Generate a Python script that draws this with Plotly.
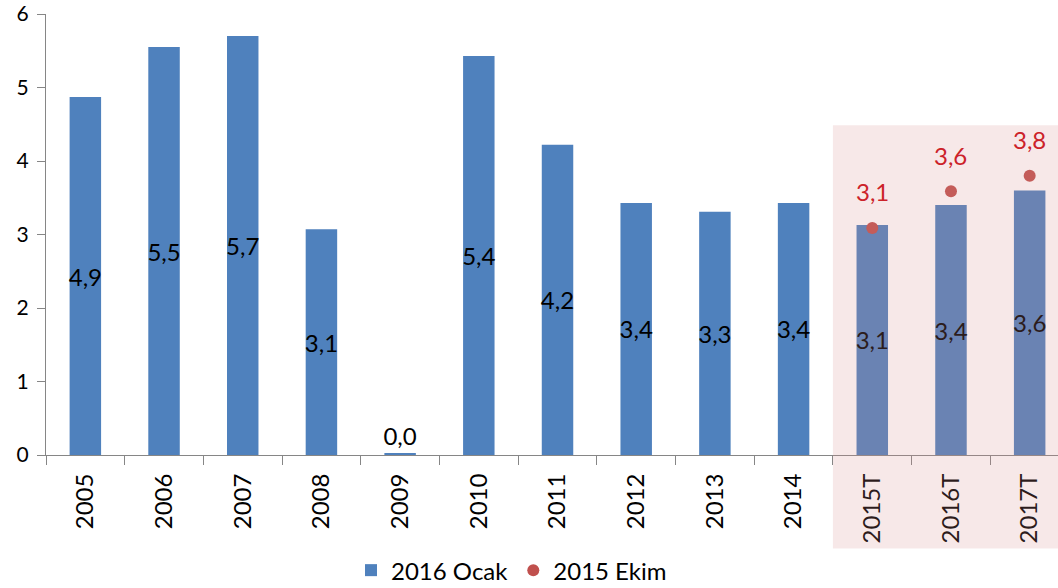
import plotly.graph_objects as go

categories = ["2005", "2006", "2007", "2008", "2009", "2010", "2011", "2012", "2013", "2014", "2015T", "2016T", "2017T"]
ocak_2016 = [4.87, 5.55, 5.70, 3.07, 0.02, 5.43, 4.22, 3.43, 3.31, 3.43, 3.13, 3.40, 3.60]
ocak_labels = ["4,9", "5,5", "5,7", "3,1", "0,0", "5,4", "4,2", "3,4", "3,3", "3,4", "3,1", "3,4", "3,6"]
ekim_cats = ["2015T", "2016T", "2017T"]
ekim_2015 = [3.09, 3.59, 3.80]
ekim_labels = ["3,1", "3,6", "3,8"]
yticks = [0, 1, 2, 3, 4, 5, 6]

FONT = "Lato, 'Open Sans', sans-serif"
BLUE = "#4f81bd"
RED = "#c0504d"
FS = 24

positions = ["outside" if v < 0.5 else "inside" for v in ocak_2016]

fig = go.Figure()
fig.add_trace(go.Bar(
    x=categories, y=ocak_2016, name="2016 Ocak",
    marker=dict(color=BLUE, line=dict(width=0)),
    width=0.4,
    text=ocak_labels, textposition=positions, textangle=0,
    insidetextanchor="middle", constraintext="none",
    textfont=dict(family=FONT, size=FS, color="#000000"),
    cliponaxis=False,
))
fig.add_trace(go.Scatter(
    x=ekim_cats, y=ekim_2015, name="2015 Ekim", mode="markers",
    marker=dict(color=RED, size=12),
))

for c, v, t in zip(ekim_cats, ekim_2015, ekim_labels):
    fig.add_annotation(x=c, y=v, text=t, showarrow=False, yshift=36,
                       font=dict(family=FONT, size=FS, color="#cc2229"))

fig.add_shape(type="rect", xref="x", yref="paper", x0=9.5, x1=13.0,
              y0=-0.212, y1=0.748, fillcolor="rgba(215,140,140,0.2)",
              line=dict(width=0), layer="above")

fig.update_layout(
    width=1058, height=588,
    margin=dict(l=46, r=0, t=14, b=133, autoexpand=False),
    plot_bgcolor="white", paper_bgcolor="white",
    font=dict(family=FONT, size=FS, color="#000000"),
    showlegend=True,
    legend=dict(orientation="h", x=0.46, xanchor="center", y=-0.262, yanchor="middle",
                font=dict(family=FONT, size=FS), traceorder="normal"),
    xaxis=dict(type="category", range=[-0.5, 12.36], showline=True, linecolor="#868686",
               linewidth=1, ticks="outside", tickson="boundaries", ticklen=9,
               tickcolor="#868686", tickangle=-90, showgrid=False, automargin=False,
               ticklabelstandoff=8, ticklabeloverflow="allow",
               tickfont=dict(family=FONT, size=FS)),
    yaxis=dict(range=[0, 6.0001], tickvals=yticks, showline=True, linecolor="#868686",
               linewidth=1, ticks="outside", ticklen=8, tickcolor="#868686",
               showgrid=False, zeroline=False, automargin=False,
               ticklabeloverflow="allow", ticklabelstandoff=4,
               tickfont=dict(family=FONT, size=21)),
)

fig.write_html("out.html", config={"displayModeBar": False},
               post_script="document.body.style.margin='0';document.body.style.overflow='hidden';")
